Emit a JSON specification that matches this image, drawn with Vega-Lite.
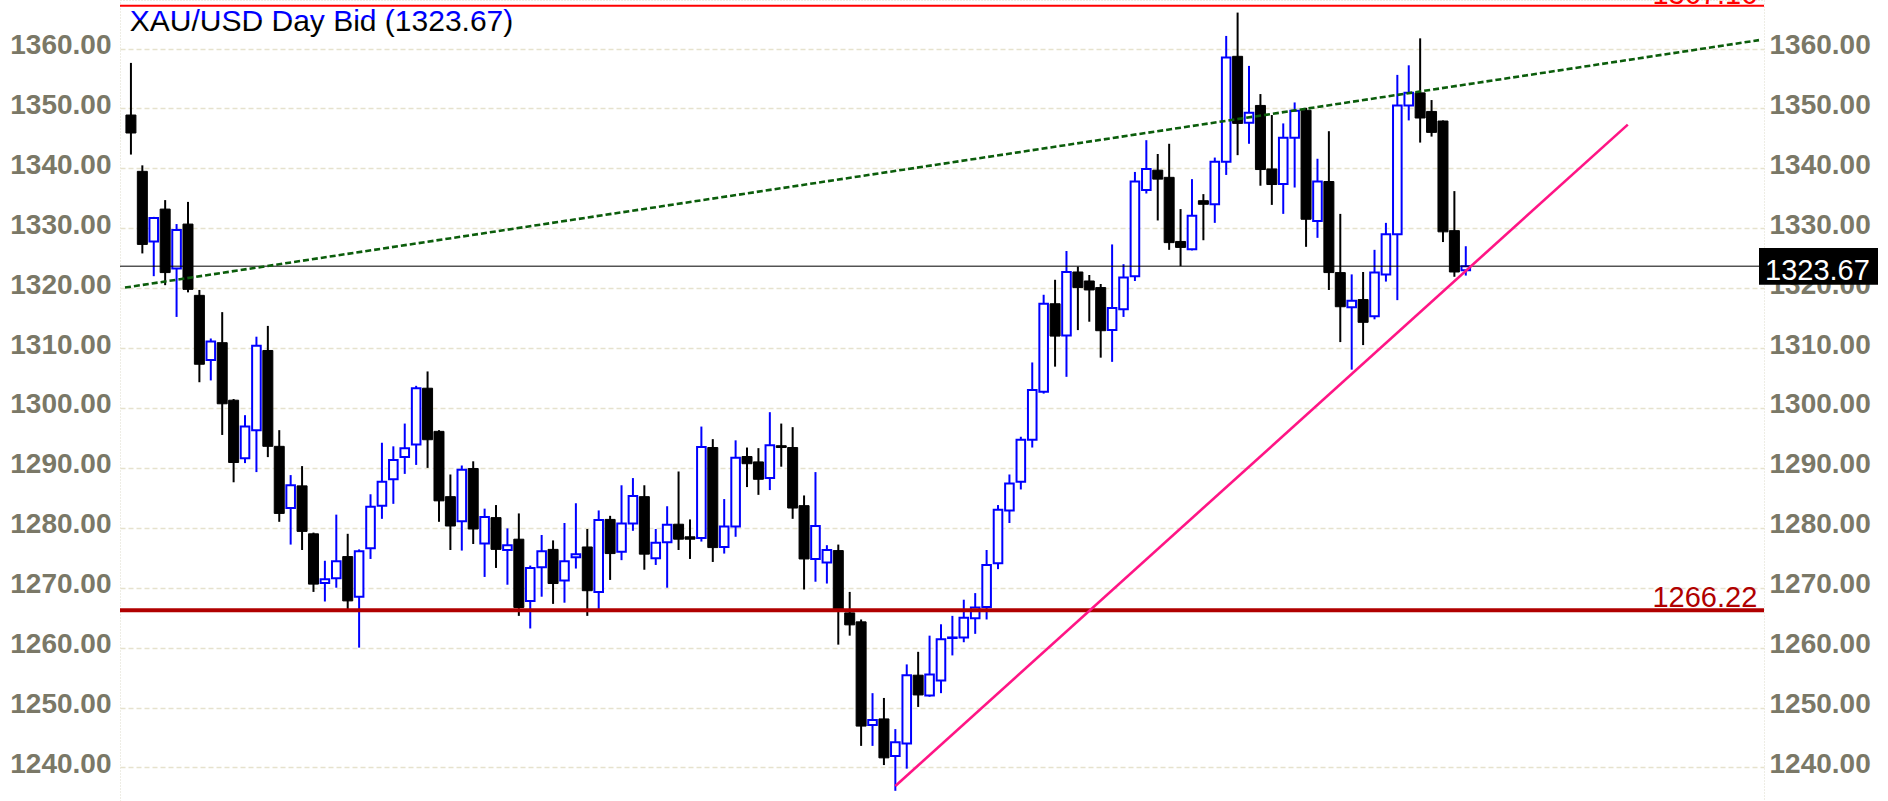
{
  "$schema": "https://vega.github.io/schema/vega-lite/v6.json",
  "width": 1888,
  "height": 801,
  "autosize": {"type": "fit", "contains": "padding"},
  "padding": 0,
  "background": "#ffffff",
  "config": {
    "font": "Liberation Sans",
    "view": {"stroke": "#dcdacb", "strokeDash": [1, 2]}
  },
  "datasets": {
    "candles": [
      {"i":1,"o":1348.9,"h":1357.6,"l":1342.3,"c":1345.9},
      {"i":2,"o":1339.5,"h":1340.5,"l":1325.8,"c":1327.3},
      {"i":3,"o":1327.8,"h":1331.9,"l":1322.0,"c":1331.7},
      {"i":4,"o":1333.2,"h":1334.7,"l":1320.5,"c":1322.6},
      {"i":5,"o":1323.3,"h":1330.7,"l":1315.2,"c":1329.7},
      {"i":6,"o":1330.7,"h":1334.4,"l":1319.3,"c":1319.8},
      {"i":7,"o":1318.8,"h":1319.7,"l":1304.3,"c":1307.3},
      {"i":8,"o":1308.0,"h":1311.6,"l":1304.6,"c":1311.1},
      {"i":9,"o":1310.9,"h":1316.0,"l":1295.5,"c":1300.7},
      {"i":10,"o":1301.3,"h":1301.5,"l":1287.6,"c":1290.9},
      {"i":11,"o":1291.6,"h":1298.8,"l":1290.8,"c":1296.9},
      {"i":12,"o":1296.3,"h":1311.9,"l":1289.3,"c":1310.4},
      {"i":13,"o":1309.6,"h":1313.7,"l":1291.8,"c":1293.6},
      {"i":14,"o":1293.6,"h":1296.3,"l":1281.0,"c":1282.4},
      {"i":15,"o":1283.3,"h":1288.8,"l":1277.2,"c":1287.1},
      {"i":16,"o":1287.0,"h":1290.3,"l":1276.3,"c":1279.4},
      {"i":17,"o":1279.0,"h":1279.2,"l":1269.3,"c":1270.6},
      {"i":18,"o":1270.8,"h":1274.5,"l":1267.7,"c":1271.4},
      {"i":19,"o":1271.6,"h":1282.2,"l":1270.0,"c":1274.4},
      {"i":20,"o":1275.2,"h":1279.0,"l":1266.3,"c":1267.8},
      {"i":21,"o":1268.5,"h":1276.4,"l":1260.0,"c":1276.1},
      {"i":22,"o":1276.6,"h":1285.6,"l":1274.8,"c":1283.5},
      {"i":23,"o":1283.7,"h":1294.2,"l":1281.5,"c":1287.7},
      {"i":24,"o":1288.1,"h":1293.6,"l":1284.0,"c":1291.3},
      {"i":25,"o":1291.8,"h":1297.4,"l":1289.0,"c":1293.3},
      {"i":26,"o":1293.9,"h":1303.7,"l":1290.5,"c":1303.3},
      {"i":27,"o":1303.3,"h":1306.1,"l":1290.0,"c":1294.7},
      {"i":28,"o":1296.1,"h":1296.3,"l":1281.0,"c":1284.5},
      {"i":29,"o":1285.2,"h":1288.9,"l":1276.3,"c":1280.3},
      {"i":30,"o":1281.1,"h":1290.4,"l":1276.2,"c":1289.7},
      {"i":31,"o":1289.9,"h":1291.1,"l":1277.3,"c":1279.8},
      {"i":32,"o":1277.4,"h":1283.2,"l":1271.8,"c":1281.8},
      {"i":33,"o":1281.7,"h":1283.8,"l":1273.3,"c":1276.4},
      {"i":34,"o":1276.3,"h":1279.9,"l":1270.5,"c":1277.1},
      {"i":35,"o":1278.1,"h":1282.4,"l":1265.3,"c":1266.7},
      {"i":36,"o":1267.8,"h":1273.7,"l":1263.2,"c":1273.3},
      {"i":37,"o":1273.4,"h":1278.8,"l":1268.5,"c":1276.1},
      {"i":38,"o":1276.4,"h":1277.9,"l":1267.3,"c":1270.7},
      {"i":39,"o":1271.2,"h":1280.8,"l":1267.5,"c":1274.4},
      {"i":40,"o":1275.1,"h":1284.1,"l":1273.2,"c":1275.6},
      {"i":41,"o":1276.8,"h":1279.8,"l":1265.3,"c":1269.5},
      {"i":42,"o":1269.3,"h":1282.9,"l":1266.4,"c":1281.3},
      {"i":43,"o":1281.4,"h":1282.0,"l":1271.3,"c":1275.7},
      {"i":44,"o":1276.0,"h":1287.1,"l":1274.6,"c":1280.7},
      {"i":45,"o":1280.7,"h":1288.3,"l":1279.5,"c":1285.3},
      {"i":46,"o":1285.2,"h":1287.1,"l":1273.0,"c":1275.6},
      {"i":47,"o":1274.9,"h":1279.8,"l":1273.8,"c":1277.5},
      {"i":48,"o":1277.6,"h":1283.6,"l":1270.0,"c":1280.5},
      {"i":49,"o":1280.6,"h":1289.4,"l":1276.3,"c":1278.1},
      {"i":50,"o":1278.5,"h":1281.4,"l":1274.8,"c":1278.1},
      {"i":51,"o":1278.3,"h":1296.9,"l":1277.7,"c":1293.5},
      {"i":52,"o":1293.4,"h":1294.8,"l":1274.3,"c":1276.7},
      {"i":53,"o":1276.8,"h":1284.8,"l":1275.7,"c":1280.2},
      {"i":54,"o":1280.2,"h":1294.6,"l":1278.5,"c":1291.7},
      {"i":55,"o":1291.9,"h":1293.4,"l":1286.8,"c":1290.7},
      {"i":56,"o":1291.0,"h":1293.3,"l":1285.5,"c":1288.1},
      {"i":57,"o":1288.3,"h":1299.3,"l":1286.3,"c":1293.8},
      {"i":58,"o":1293.7,"h":1297.4,"l":1290.2,"c":1293.4},
      {"i":59,"o":1293.4,"h":1296.8,"l":1281.5,"c":1283.3},
      {"i":60,"o":1283.7,"h":1285.4,"l":1269.7,"c":1274.8},
      {"i":61,"o":1274.8,"h":1289.3,"l":1271.0,"c":1280.3},
      {"i":62,"o":1274.2,"h":1277.1,"l":1270.7,"c":1276.3},
      {"i":63,"o":1276.2,"h":1277.2,"l":1260.5,"c":1266.3},
      {"i":64,"o":1265.8,"h":1269.3,"l":1262.0,"c":1263.8},
      {"i":65,"o":1264.3,"h":1264.7,"l":1243.6,"c":1246.9},
      {"i":66,"o":1247.1,"h":1252.4,"l":1243.6,"c":1247.9},
      {"i":67,"o":1248.1,"h":1251.6,"l":1240.4,"c":1241.6},
      {"i":68,"o":1241.9,"h":1246.4,"l":1236.1,"c":1244.2},
      {"i":69,"o":1244.0,"h":1257.2,"l":1239.8,"c":1255.4},
      {"i":70,"o":1255.4,"h":1259.3,"l":1250.1,"c":1252.1},
      {"i":71,"o":1252.0,"h":1262.0,"l":1251.8,"c":1255.5},
      {"i":72,"o":1254.5,"h":1263.9,"l":1252.4,"c":1261.4},
      {"i":73,"o":1261.6,"h":1265.3,"l":1258.7,"c":1261.7},
      {"i":74,"o":1261.7,"h":1268.0,"l":1260.9,"c":1265.0},
      {"i":75,"o":1264.9,"h":1269.1,"l":1262.3,"c":1266.7},
      {"i":76,"o":1266.8,"h":1276.3,"l":1264.7,"c":1273.8},
      {"i":77,"o":1274.1,"h":1283.8,"l":1273.1,"c":1283.0},
      {"i":78,"o":1282.9,"h":1288.9,"l":1280.8,"c":1287.4},
      {"i":79,"o":1287.7,"h":1295.2,"l":1286.4,"c":1294.7},
      {"i":80,"o":1294.7,"h":1307.6,"l":1293.4,"c":1303.0},
      {"i":81,"o":1302.7,"h":1318.9,"l":1302.4,"c":1317.4},
      {"i":82,"o":1317.4,"h":1321.4,"l":1306.9,"c":1312.0},
      {"i":83,"o":1312.1,"h":1326.2,"l":1305.2,"c":1322.7},
      {"i":84,"o":1322.7,"h":1323.6,"l":1313.0,"c":1320.1},
      {"i":85,"o":1321.2,"h":1322.2,"l":1314.4,"c":1319.7},
      {"i":86,"o":1320.1,"h":1320.7,"l":1308.4,"c":1312.9},
      {"i":87,"o":1313.0,"h":1327.3,"l":1307.7,"c":1316.7},
      {"i":88,"o":1316.5,"h":1324.0,"l":1315.2,"c":1321.8},
      {"i":89,"o":1322.0,"h":1339.4,"l":1321.2,"c":1337.8},
      {"i":90,"o":1336.4,"h":1344.7,"l":1335.8,"c":1339.9},
      {"i":91,"o":1339.7,"h":1342.4,"l":1331.3,"c":1338.2},
      {"i":92,"o":1338.5,"h":1344.1,"l":1326.4,"c":1327.6},
      {"i":93,"o":1327.8,"h":1333.2,"l":1323.7,"c":1326.8},
      {"i":94,"o":1326.5,"h":1338.2,"l":1326.3,"c":1332.1},
      {"i":95,"o":1334.6,"h":1335.7,"l":1328.0,"c":1334.0},
      {"i":96,"o":1334.0,"h":1341.8,"l":1330.9,"c":1341.1},
      {"i":97,"o":1341.1,"h":1362.1,"l":1338.9,"c":1358.5},
      {"i":98,"o":1358.7,"h":1366.0,"l":1342.2,"c":1347.5},
      {"i":99,"o":1347.6,"h":1357.1,"l":1344.1,"c":1349.3},
      {"i":100,"o":1350.5,"h":1352.4,"l":1337.1,"c":1339.8},
      {"i":101,"o":1339.9,"h":1348.9,"l":1333.9,"c":1337.3},
      {"i":102,"o":1337.4,"h":1347.5,"l":1332.4,"c":1345.1},
      {"i":103,"o":1345.1,"h":1351.0,"l":1336.8,"c":1349.6},
      {"i":104,"o":1349.7,"h":1350.1,"l":1326.9,"c":1331.5},
      {"i":105,"o":1331.2,"h":1341.6,"l":1328.4,"c":1337.8},
      {"i":106,"o":1337.8,"h":1346.2,"l":1319.7,"c":1322.6},
      {"i":107,"o":1322.6,"h":1332.4,"l":1311.0,"c":1316.9},
      {"i":108,"o":1316.8,"h":1322.3,"l":1306.4,"c":1317.9},
      {"i":109,"o":1318.1,"h":1322.7,"l":1310.5,"c":1314.3},
      {"i":110,"o":1315.3,"h":1326.4,"l":1314.8,"c":1322.6},
      {"i":111,"o":1322.3,"h":1330.9,"l":1321.1,"c":1329.0},
      {"i":112,"o":1329.0,"h":1355.6,"l":1318.0,"c":1350.5},
      {"i":113,"o":1350.5,"h":1357.2,"l":1348.0,"c":1352.6},
      {"i":114,"o":1352.6,"h":1361.7,"l":1344.3,"c":1348.4},
      {"i":115,"o":1349.5,"h":1351.4,"l":1345.3,"c":1346.0},
      {"i":116,"o":1347.9,"h":1348.0,"l":1327.7,"c":1329.4},
      {"i":117,"o":1329.6,"h":1336.2,"l":1321.9,"c":1322.7},
      {"i":118,"o":1323.0,"h":1327.0,"l":1322.1,"c":1323.67}
    ],
    "green": [{"i": 0.48, "v": 1320.1}, {"i": 143.7, "v": 1361.4}],
    "pink": [{"i": 68, "v": 1236.9}, {"i": 132.2, "v": 1347.3}],
    "one": [{"k": 1}]
  },
  "resolve": {"axis": {"y": "independent"}},
  "layer": [
    {
      "data": {"name": "candles"},
      "mark": {"type": "rule", "strokeWidth": 2},
      "encoding": {
        "x": {"field": "i", "type": "quantitative", "scale": {"domain": [0.48, 143.7], "nice": false, "zero": false},
              "axis": {"values": [17, 39, 61, 81, 103, 125], "labels": false, "ticks": false, "domain": false, "title": null, "grid": true, "gridColor": "#dcd9cc", "gridDash": [1, 3], "gridWidth": 1, "minExtent": 0, "maxExtent": 0}},
        "y": {"field": "l", "type": "quantitative", "scale": {"domain": [1234.4, 1368.1], "nice": false, "zero": false},
              "axis": {"orient": "left", "values": [1240,1250,1260,1270,1280,1290,1300,1310,1320,1330,1340,1350,1360], "format": ".2f", "title": null, "ticks": false, "domain": false, "labelFont": "Liberation Sans", "labelFontSize": 28, "labelFontWeight": "bold", "labelColor": "#7a7867", "labelPadding": 9, "labelBaseline": "alphabetic", "labelOffset": 5, "minExtent": 120, "maxExtent": 120, "grid": true, "gridColor": "#e6e2cd", "gridDash": [5, 3], "gridWidth": 1.5}},
        "y2": {"field": "h"},
        "color": {"condition": {"test": "datum.c >= datum.o", "value": "#0000ff"}, "value": "#000000"}
      }
    },
    {
      "data": {"name": "candles"},
      "transform": [{"filter": "datum.c < datum.o"}],
      "mark": {"type": "bar", "width": 10, "color": "#000000", "stroke": "#000000", "strokeWidth": 1},
      "encoding": {
        "x": {"field": "i", "type": "quantitative", "scale": {"domain": [0.48, 143.7], "nice": false, "zero": false}, "axis": null},
        "y": {"field": "o", "type": "quantitative", "scale": {"domain": [1234.4, 1368.1], "nice": false, "zero": false}, "axis": null},
        "y2": {"field": "c"}
      }
    },
    {
      "data": {"name": "candles"},
      "transform": [{"filter": "datum.c >= datum.o"}],
      "mark": {"type": "bar", "width": 8.6, "fill": "#ffffff", "stroke": "#0000ff", "strokeWidth": 2},
      "encoding": {
        "x": {"field": "i", "type": "quantitative", "scale": {"domain": [0.48, 143.7], "nice": false, "zero": false}, "axis": null},
        "y": {"field": "o", "type": "quantitative", "scale": {"domain": [1234.4, 1368.1], "nice": false, "zero": false}, "axis": null},
        "y2": {"field": "c"}
      }
    },
    {
      "data": {"name": "one"},
      "mark": {"type": "rule", "color": "#000000", "strokeWidth": 1},
      "encoding": {
        "y": {"datum": 1323.67, "type": "quantitative", "scale": {"domain": [1234.4, 1368.1], "nice": false, "zero": false},
              "axis": {"orient": "right", "values": [1240,1250,1260,1270,1280,1290,1300,1310,1320,1330,1340,1350,1360], "format": ".2f", "title": null, "ticks": false, "domain": false, "grid": false, "labelFont": "Liberation Sans", "labelFontSize": 28, "labelFontWeight": "bold", "labelColor": "#7a7867", "labelPadding": 5, "labelBaseline": "alphabetic", "labelOffset": 5, "minExtent": 124, "maxExtent": 124}}
      }
    },
    {
      "data": {"name": "one"},
      "mark": {"type": "rule", "color": "#b00000", "strokeWidth": 4},
      "encoding": {
        "y": {"datum": 1266.22, "type": "quantitative", "scale": {"domain": [1234.4, 1368.1], "nice": false, "zero": false}, "axis": null}
      }
    },
    {
      "data": {"name": "one"},
      "mark": {"type": "rule", "color": "#ff0000", "strokeWidth": 2},
      "encoding": {
        "y": {"datum": 1367.16, "type": "quantitative", "scale": {"domain": [1234.4, 1368.1], "nice": false, "zero": false}, "axis": null}
      }
    },
    {
      "data": {"name": "green"},
      "mark": {"type": "line", "color": "#0b5d0b", "strokeWidth": 2.6, "strokeDash": [6, 3]},
      "encoding": {
        "x": {"field": "i", "type": "quantitative", "scale": {"domain": [0.48, 143.7], "nice": false, "zero": false}, "axis": null},
        "y": {"field": "v", "type": "quantitative", "scale": {"domain": [1234.4, 1368.1], "nice": false, "zero": false}, "axis": null}
      }
    },
    {
      "data": {"name": "pink"},
      "mark": {"type": "line", "color": "#ff1585", "strokeWidth": 2.6},
      "encoding": {
        "x": {"field": "i", "type": "quantitative", "scale": {"domain": [0.48, 143.7], "nice": false, "zero": false}, "axis": null},
        "y": {"field": "v", "type": "quantitative", "scale": {"domain": [1234.4, 1368.1], "nice": false, "zero": false}, "axis": null}
      }
    },
    {
      "data": {"name": "one"},
      "mark": {"type": "text", "text": "1266.22", "align": "right", "baseline": "alphabetic", "dy": -3, "font": "Liberation Sans", "fontSize": 29, "color": "#b00000"},
      "encoding": {
        "x": {"datum": 143.55, "type": "quantitative", "scale": {"domain": [0.48, 143.7], "nice": false, "zero": false}, "axis": null},
        "y": {"datum": 1266.22, "type": "quantitative", "scale": {"domain": [1234.4, 1368.1], "nice": false, "zero": false}, "axis": null}
      }
    },
    {
      "data": {"name": "one"},
      "mark": {"type": "text", "text": "1367.16", "align": "right", "baseline": "alphabetic", "dy": -2, "font": "Liberation Sans", "fontSize": 29, "color": "#ff0000", "clip": true},
      "encoding": {
        "x": {"datum": 143.55, "type": "quantitative", "scale": {"domain": [0.48, 143.7], "nice": false, "zero": false}, "axis": null},
        "y": {"datum": 1367.16, "type": "quantitative", "scale": {"domain": [1234.4, 1368.1], "nice": false, "zero": false}, "axis": null}
      }
    },
    {
      "data": {"name": "one"},
      "mark": {"type": "text", "text": "XAU/USD Day Bid (1323.67)", "align": "left", "baseline": "alphabetic", "font": "Liberation Sans", "fontSize": 30,
               "color": {"gradient": "linear", "x1": 0, "y1": 0, "x2": 0, "y2": 1, "stops": [{"offset": 0, "color": "#0000ff"}, {"offset": 0.47, "color": "#0000ff"}, {"offset": 0.48, "color": "#000000"}, {"offset": 1, "color": "#000000"}]}},
      "encoding": {
        "x": {"datum": 0.9, "type": "quantitative", "scale": {"domain": [0.48, 143.7], "nice": false, "zero": false}, "axis": null},
        "y": {"datum": 1362.9, "type": "quantitative", "scale": {"domain": [1234.4, 1368.1], "nice": false, "zero": false}, "axis": null}
      }
    },
    {
      "data": {"name": "one"},
      "mark": {"type": "rect", "color": "#000000", "x2Offset": 119},
      "encoding": {
        "x": {"datum": 143.7, "type": "quantitative", "scale": {"domain": [0.48, 143.7], "nice": false, "zero": false}, "axis": null},
        "x2": {"datum": 143.7},
        "y": {"datum": 1326.71, "type": "quantitative", "scale": {"domain": [1234.4, 1368.1], "nice": false, "zero": false}, "axis": null},
        "y2": {"datum": 1320.57}
      }
    },
    {
      "data": {"name": "one"},
      "mark": {"type": "text", "text": "1323.67", "align": "left", "baseline": "alphabetic", "dx": 6, "font": "Liberation Sans", "fontSize": 29, "color": "#ffffff"},
      "encoding": {
        "x": {"datum": 143.7, "type": "quantitative", "scale": {"domain": [0.48, 143.7], "nice": false, "zero": false}, "axis": null},
        "y": {"datum": 1321.3, "type": "quantitative", "scale": {"domain": [1234.4, 1368.1], "nice": false, "zero": false}, "axis": null}
      }
    }
  ]
}
